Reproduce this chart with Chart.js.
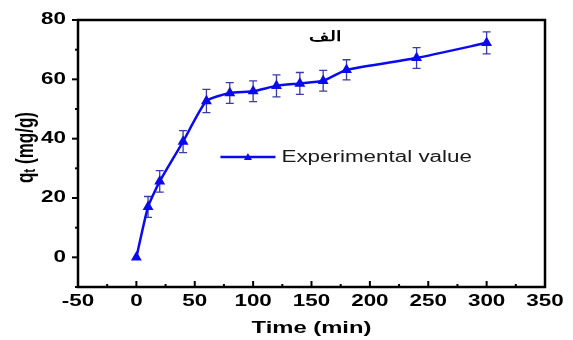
<!DOCTYPE html>
<html>
<head>
<meta charset="utf-8">
<script src="https://cdn.jsdelivr.net/npm/chart.js@4"></script>
<style>
  html, body { margin: 0; padding: 0; background: #fff; }
  #wrap { width: 573px; height: 340px; }
</style>
</head>
<body>
<div id="wrap"><canvas id="chart"></canvas></div>
<script>
// data
const times = [0, 10, 20, 40, 60, 80, 100, 120, 140, 160, 180, 240, 300];
const qtValues = [0, 17, 25.6, 39, 52.7, 55.4, 56, 57.8, 58.6, 59.5, 63.2, 67.2, 72.3];
const qtErrors = [0, 3.5, 3.6, 3.7, 3.9, 3.5, 3.5, 3.7, 3.7, 3.5, 3.4, 3.5, 3.7];
const xTicks = [-50, 0, 50, 100, 150, 200, 250, 300, 350];
const yTicks = [0, 20, 40, 60, 80];
const seriesLabel = 'Experimental value';
const panelLabel = 'الف';
const xTitle = 'Time (min)';

const lineColor = '#0a0af0';
const barColor = '#3b3ba8';
const fontFamily = '"Liberation Sans", Arial, sans-serif';
const stretch = 1.4; // the source figure's text is drawn wide

// draws text stretched horizontally like the source image
function wideText(ctx, text, x, y, font, align) {
    ctx.save();
    ctx.font = font;
    ctx.textAlign = align || 'center';
    ctx.textBaseline = 'middle';
    ctx.translate(x, y);
    ctx.scale(stretch, 1);
    ctx.fillText(text, 0, 0);
    ctx.restore();
}

const extras = {
    id: 'extras',
    beforeDatasetsDraw(chart) {
        const ctx = chart.ctx;
        const xs = chart.scales.x, ys = chart.scales.y;
        // error bars
        ctx.save();
        ctx.strokeStyle = barColor;
        ctx.lineWidth = 1.3;
        times.forEach((t, i) => {
            if (!qtErrors[i]) return;
            const px = xs.getPixelForValue(t);
            const top = ys.getPixelForValue(qtValues[i] + qtErrors[i]);
            const bot = ys.getPixelForValue(qtValues[i] - qtErrors[i]);
            ctx.beginPath();
            ctx.moveTo(px, top); ctx.lineTo(px, bot);
            ctx.moveTo(px - 4, top); ctx.lineTo(px + 4, top);
            ctx.moveTo(px - 4, bot); ctx.lineTo(px + 4, bot);
            ctx.stroke();
        });
        ctx.restore();
    },
    afterDraw(chart) {
        const ctx = chart.ctx;
        const a = chart.chartArea;
        const xs = chart.scales.x, ys = chart.scales.y;
        ctx.save();
        // frame
        ctx.strokeStyle = '#000';
        ctx.lineWidth = 2.5;
        ctx.strokeRect(a.left, a.top, a.right - a.left, a.bottom - a.top);

        // x ticks (inward), major + minor
        ctx.lineWidth = 2;
        for (let v = xs.min; v <= xs.max; v += 25) {
            const px = xs.getPixelForValue(v);
            const len = v % 50 === 0 ? 6 : 3;
            ctx.beginPath();
            ctx.moveTo(px, a.bottom); ctx.lineTo(px, a.bottom - len);
            ctx.stroke();
        }
        // y ticks (outward), major + minor
        for (let v = ys.min; v <= ys.max; v += 10) {
            const py = ys.getPixelForValue(v);
            const len = v % 20 === 0 ? 6 : 3;
            ctx.beginPath();
            ctx.moveTo(a.left, py); ctx.lineTo(a.left - len, py);
            ctx.stroke();
        }

        // tick labels
        ctx.fillStyle = '#000';
        const tickFont = 'bold 16px ' + fontFamily;
        xTicks.forEach(v => wideText(ctx, String(v), xs.getPixelForValue(v), a.bottom + 15, tickFont, 'center'));
        yTicks.forEach(v => wideText(ctx, String(v), a.left - 12, ys.getPixelForValue(v), tickFont, 'right'));

        // x title
        wideText(ctx, xTitle, (a.left + a.right) / 2, a.bottom + 41, 'bold 17px ' + fontFamily, 'center');

        // y title with subscript, rotated (stretch goes across the glyphs)
        ctx.save();
        ctx.translate(26, (a.top + a.bottom) / 2 - 6);
        ctx.rotate(-Math.PI / 2);
        ctx.scale(1, stretch);
        ctx.textBaseline = 'middle';
        const big = 'bold 17px ' + fontFamily, small = 'bold 12px ' + fontFamily;
        ctx.font = big;
        const wq = ctx.measureText('q').width;
        const rest = ' (mg/g)';
        const wr = ctx.measureText(rest).width;
        ctx.font = small;
        const wt = ctx.measureText('t').width;
        const x0 = -(wq + wt + wr) / 2;
        ctx.font = big;
        ctx.fillText('q', x0, 0);
        ctx.font = small;
        ctx.fillText('t', x0 + wq, 3);
        ctx.font = big;
        ctx.fillText(rest, x0 + wq + wt, 0);
        ctx.restore();

        // legend inside plot
        const lx = xs.getPixelForValue(72), ly = ys.getPixelForValue(33.8);
        ctx.strokeStyle = lineColor;
        ctx.lineWidth = 2.5;
        ctx.beginPath();
        ctx.moveTo(lx, ly); ctx.lineTo(lx + 55, ly);
        ctx.stroke();
        ctx.fillStyle = lineColor;
        ctx.beginPath();
        ctx.moveTo(lx + 27.5, ly - 4);
        ctx.lineTo(lx + 31.5, ly + 3);
        ctx.lineTo(lx + 23.5, ly + 3);
        ctx.closePath();
        ctx.fill();
        ctx.fillStyle = '#1a1a1a';
        wideText(ctx, seriesLabel, lx + 61, ly + 1, '16px ' + fontFamily, 'left');

        // panel label
        ctx.fillStyle = '#000';
        wideText(ctx, panelLabel, xs.getPixelForValue(162), ys.getPixelForValue(74.2), 'bold 14px ' + fontFamily, 'center');
        ctx.restore();
    }
};

new Chart(document.getElementById('chart'), {
    type: 'line',
    data: {
        datasets: [{
            label: seriesLabel,
            data: times.map((t, i) => ({ x: t, y: qtValues[i] })),
            borderColor: lineColor,
            backgroundColor: lineColor,
            borderWidth: 2.5,
            tension: 0.18,
            pointStyle: 'triangle',
            pointRadius: 3.8,
            pointHoverRadius: 3.8,
        }]
    },
    options: {
        responsive: true,
        maintainAspectRatio: false,
        animation: false,
        layout: { padding: { top: 20, right: 28, left: 78, bottom: 53 } },
        plugins: {
            legend: { display: false },
            tooltip: { enabled: false }
        },
        scales: {
            x: { type: 'linear', display: false, min: -50, max: 350 },
            y: { type: 'linear', display: false, min: -10, max: 80 }
        }
    },
    plugins: [extras]
});
</script>
</body>
</html>
